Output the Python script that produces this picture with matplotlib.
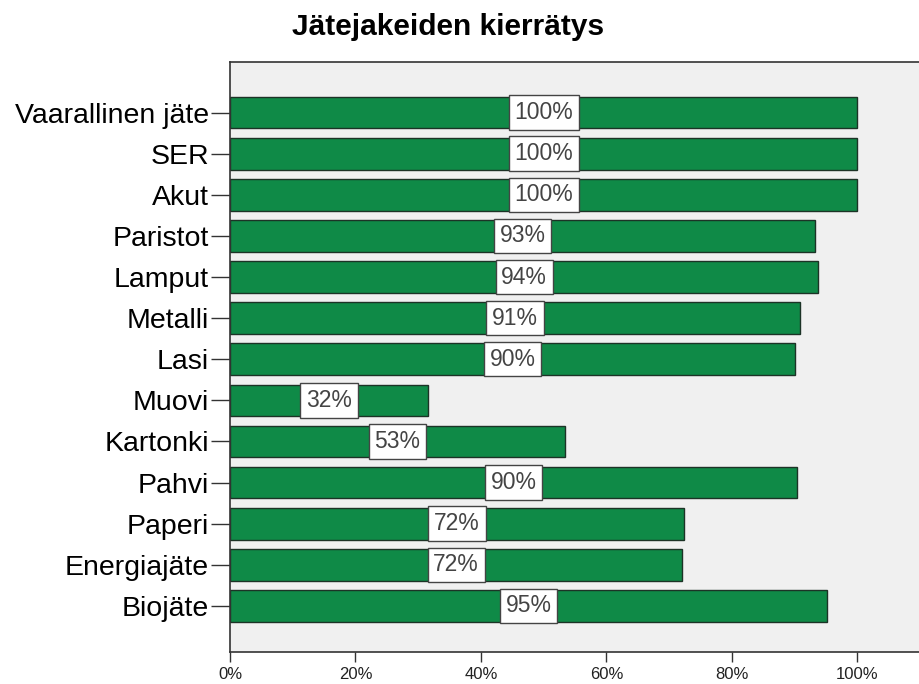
import matplotlib.pyplot as plt

plt.rcParams['font.family'] = ['Liberation Sans', 'DejaVu Sans']

categories = ["Vaarallinen jäte", "SER", "Akut", "Paristot", "Lamput", "Metalli",
              "Lasi", "Muovi", "Kartonki", "Pahvi", "Paperi", "Energiajäte", "Biojäte"]
values = [100, 100, 100, 93.3, 93.8, 90.9, 90.1, 31.6, 53.4, 90.4, 72.4, 72.1, 95.2]
xticks = [0, 20, 40, 60, 80, 100]
xticklabels = ["0%", "20%", "40%", "60%", "80%", "100%"]

fig = plt.figure(figsize=(9.2, 6.84), dpi=100)
ax = fig.add_axes([230 / 920, 1 - 652 / 684, 1 - 230 / 920, 590 / 684])
ax.set_facecolor('#f0f0f0')

pos = list(range(len(categories)))
ax.barh(pos, values, height=0.77, color='#0f8a47', edgecolor='#1c3326', linewidth=1.0)

for y, v in zip(pos, values):
    ax.text(v / 2, y, f"{v:.0f}%", ha='center', va='center', fontsize=16.5, color='#444444',
            bbox=dict(boxstyle='square,pad=0.25', facecolor='white', edgecolor='#444444', linewidth=1))

ax.set_ylim(13.12, -1.23)
ax.set_xlim(0, 110)
ax.set_yticks(pos)
ax.set_yticklabels(categories, fontsize=20.5)
ax.set_xticks(xticks)
ax.set_xticklabels(xticklabels, fontsize=12, color='#222222')
ax.tick_params(axis='y', length=14, width=1, color='#333333', pad=1)
ax.tick_params(axis='x', length=7, width=1, color='#333333', pad=4)

ax.spines['right'].set_visible(False)
for s in ['left', 'bottom', 'top']:
    ax.spines[s].set_color('#333333')
    ax.spines[s].set_linewidth(1.2)

fig.text(448 / 920, 1 - 27 / 684, "Jätejakeiden kierrätys", ha='center', va='center',
         fontsize=21.5, fontweight='bold')

fig.savefig("out.png", dpi=100)
